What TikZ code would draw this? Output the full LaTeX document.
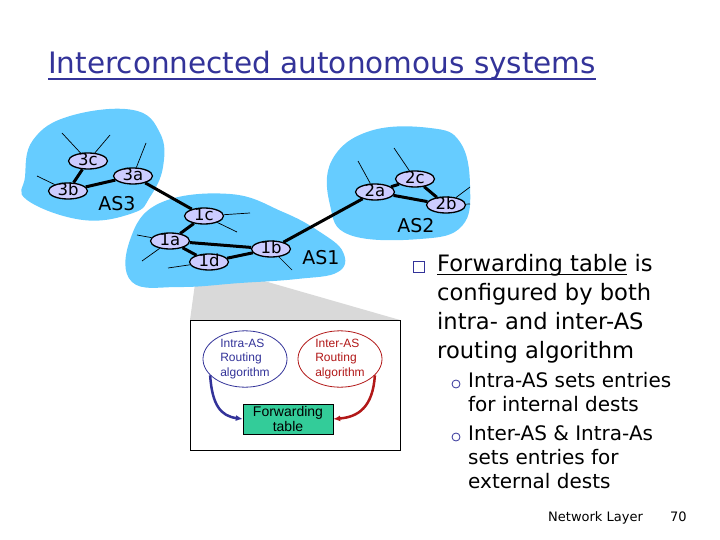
\documentclass[tikz,border=0pt]{standalone}
\usepackage{fontspec}
\setmainfont{DejaVu Sans}
\newfontfamily\arialfont{Liberation Sans}
\usetikzlibrary{shapes.geometric, arrows.meta}
\definecolor{asblue}{RGB}{102,204,255}
\definecolor{rtlilac}{RGB}{204,204,255}
\definecolor{calloutgrey}{RGB}{217,217,217}
\definecolor{titleblue}{RGB}{51,51,153}
\definecolor{interred}{RGB}{178,24,24}
\definecolor{tablegreen}{RGB}{51,204,153}

\newsavebox\ulbox
\newcommand{\ulthick}[2]{\sbox\ulbox{#2}\rlap{\raisebox{-#1}{\rule{\wd\ulbox}{1.8pt}}}\usebox\ulbox}

\tikzset{
    router/.style={ellipse, draw=black, line width=1.3pt, fill=rtlilac,
        minimum width=39pt, minimum height=16pt, inner sep=0pt,
        text height=9.5pt, text depth=0.5pt,
        font=\fontsize{16.5}{16.5}\selectfont},
    link/.style={line width=3pt},
    stub/.style={line width=0.7pt},
    aslabel/.style={font=\fontsize{19}{19}\selectfont},
    algo/.style={ellipse, draw, line width=0.8pt, minimum width=84pt,
        minimum height=54pt, inner sep=0pt, align=left,
        font=\arialfont\fontsize{12}{14.5}\selectfont},
    flow/.style={line width=2.5pt, -{Latex[length=7pt,width=6pt]}},
    bigtext/.style={anchor=north west, align=left, inner sep=0pt,
        font=\fontsize{22.6}{29}\selectfont},
    smalltext/.style={anchor=north west, align=left, inner sep=0pt,
        font=\fontsize{20}{24.2}\selectfont},
    bullet/.style={circle, draw=titleblue, line width=0.8pt, minimum size=8pt,
        inner sep=0pt}
}

\begin{document}
\begin{tikzpicture}[x=1pt, y=-1pt]
            \useasboundingbox (0,0) rectangle (720,540);
            % title
            \node[anchor=base west, inner sep=0pt, text=titleblue,
                font=\fontsize{29.5}{29.5}\selectfont] (title) at (48,74)
                {\ulthick{6pt}{Interconnected autonomous systems}};

            % callout behind AS1
            \fill[calloutgrey] (198,262) -- (400,320) -- (190,320) -- cycle;

            % autonomous systems
            \fill[asblue] plot[smooth cycle, tension=0.7] coordinates {
                (33,140) (70,116) (133,110) (160,133) (163,167)
                (150,197) (133,213) (83,220) (27,200) (25,177)};
            \fill[asblue] plot[smooth cycle, tension=0.7] coordinates {
                (130,240) (160,203) (230,194) (283,212) (320,232)
                (343,252) (338,272) (297,279) (240,283) (180,287) (132,282)};
            \fill[asblue] plot[smooth cycle, tension=0.7] coordinates {
                (332,160) (370,131) (430,128) (460,142) (470,185)
                (462,226) (420,239) (350,235) (330,205)};

            \node[aslabel] (as3) at (117,204) {AS3};
            \node[aslabel] (as1) at (321,258) {AS1};
            \node[aslabel] (as2) at (416,226) {AS2};

            % routers
            \node[router] (r3c) at (88,161) {3c};
            \node[router] (r3b) at (68,191) {3b};
            \node[router] (r3a) at (133,176) {3a};
            \node[router] (r1c) at (204,216) {1c};
            \node[router] (r1a) at (170,241) {1a};
            \node[router] (r1d) at (209,262) {1d};
            \node[router] (r1b) at (271,249) {1b};
            \node[router] (r2a) at (375,192) {2a};
            \node[router] (r2c) at (415,179) {2c};
            \node[router] (r2b) at (446,205) {2b};

            % links
            \draw[link] (r3c) -- (r3b);
            \draw[link] (r3b) -- (r3a);
            \draw[link] (r3a) -- (r1c);
            \draw[link] (r1c) -- (r1a);
            \draw[link] (r1a) -- (r1b);
            \draw[link] (r1a) -- (r1d);
            \draw[link] (r1d) -- (r1b);
            \draw[link] (r1b) -- (r2a);
            \draw[link] (r2a) -- (r2c);
            \draw[link] (r2a) -- (r2b);
            \draw[link] (r2c) -- (r2b);

            % hosts
            \draw[stub] (r3c) -- (62,133);
            \draw[stub] (r3c) -- (110,135);
            \draw[stub] (r3b) -- (37,176);
            \draw[stub] (r3a) -- (146,143);
            \draw[stub] (r1c) -- (250,213);
            \draw[stub] (r1c) -- (237,232);
            \draw[stub] (r1a) -- (137,235);
            \draw[stub] (r1a) -- (142,261);
            \draw[stub] (r1d) -- (168,268);
            \draw[stub] (r1b) -- (292,270);
            \draw[stub] (r2a) -- (358,161);
            \draw[stub] (r2c) -- (394,148);
            \draw[stub] (r2b) -- (470,187);
            \draw[stub] (r2b) -- (470,204);

            % inside a router
            \draw[fill=white, line width=0.8pt] (190,320) rectangle (400,450);
            \node[algo, draw=titleblue, text=titleblue] (intra) at (245,359)
                {Intra-AS\\Routing\\algorithm};
            \node[algo, draw=interred, text=interred] (inter) at (340,359)
                {Inter-AS\\Routing\\algorithm};
            \node[draw, fill=tablegreen, minimum width=90pt, minimum height=30pt,
                inner sep=0pt, align=center,
                font=\arialfont\fontsize{14}{15}\selectfont] (ftab) at (288,419)
                {Forwarding\\table};
            \draw[flow, titleblue] (intra.205) .. controls +(2,30) and +(-22,-3) .. (ftab.west);
            \draw[flow, interred] (inter.-25) .. controls +(-2,32) and +(25,-2) .. (ftab.east);

            % text
            \node[draw=titleblue, line width=1pt, minimum size=11pt, inner sep=0pt]
                (sq) at (419,267) {};
            \node[bigtext] (fwd) at (437,254)
                {\ulthick{4pt}{Forwarding table} is\\configured by both\\
                 intra- and inter-AS\\routing algorithm};
            \node[bullet] (o1) at (456,384) {};
            \node[smalltext] (intxt) at (468,372)
                {Intra-AS sets entries\\for internal dests};
            \node[bullet] (o2) at (456,437) {};
            \node[smalltext] (extxt) at (468,425)
                {Inter-AS \& Intra-As\\sets entries for\\external dests};
            \node[anchor=base west, inner sep=0pt, font=\fontsize{13}{13}\selectfont]
                (lay) at (548,521) {Network Layer};
            \node[anchor=base west, inner sep=0pt, font=\fontsize{13}{13}\selectfont]
                (pg) at (670,521) {70};
\end{tikzpicture}
\end{document}
